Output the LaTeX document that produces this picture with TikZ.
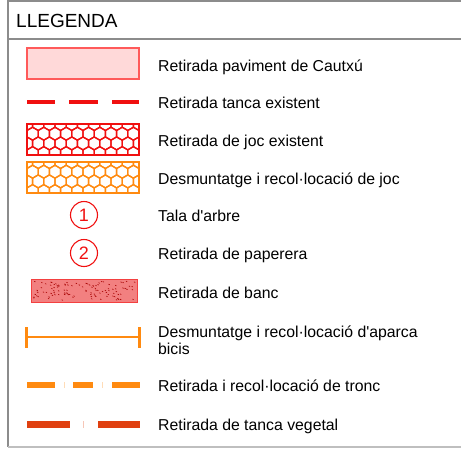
\documentclass[tikz,border=0pt]{standalone}
\usepackage{fontspec}
\setmainfont{Liberation Sans}

\definecolor{rosat}{HTML}{FFD9D9}
\definecolor{vora}{HTML}{FF5A5A}
\definecolor{vermell}{HTML}{F01010}
\definecolor{taronja}{HTML}{FF8A10}
\definecolor{teula}{HTML}{E04010}
\definecolor{banc}{HTML}{F28080}
\definecolor{marc}{HTML}{8C8C8C}

% honeycomb fill: colour, left, top
\newcommand{\panal}[3]{%
  \begin{scope}
    \clip (#2,#3) rectangle ++(112,31);
    \foreach \j in {0,...,4}
      \foreach \i in {-1,...,10} {
        \pgfmathsetmacro\cx{#2+\i*11.2+mod(\j,2)*5.6}
        \pgfmathsetmacro\cy{#3+\j*9.7}
        \draw[#1, line width=1.3pt] (\cx,\cy) +(90:6.47) -- +(30:6.47) -- +(-30:6.47)
          -- +(-90:6.47) -- +(-150:6.47) -- +(150:6.47) -- cycle;
      }
  \end{scope}
  \draw[#1, line width=1.4pt] (#2,#3) rectangle ++(112,31);
}

\begin{document}
\begin{tikzpicture}[x=1pt, y=-1pt,
    lbl/.style={anchor=base west, inner sep=0pt, font=\fontsize{15.8}{18}\selectfont},
    numero/.style={circle, draw=vermell, text=vermell, line width=1.1pt,
      minimum size=27pt, inner sep=0pt, font=\fontsize{18}{18}\selectfont}]
\useasboundingbox (0,0) rectangle (461,450);

            % Frame
            \draw[marc, line width=1.2pt] (461,1) -- (8,1) -- (8,447);
            \draw[marc, line width=1.2pt] (8,39) -- (461,39);
            \draw[black!25, line width=2.5pt] (8,447) -- (461,447);
            \node[anchor=base west, inner sep=0pt, font=\fontsize{19}{22}\selectfont] (titol) at (16,27) {LLEGENDA};

            % Symbols
            \draw[vora, fill=rosat, line width=1.2pt] (27,48) rectangle (139,79);
            \draw[vermell, line width=4pt] (27,102) -- (55,102) (69,102) -- (98,102) (112,102) -- (139,102);
            \panal{vermell}{27}{124}
            \panal{taronja}{27}{162}
            \node[numero] (n1) at (84,215) {1};
            \node[numero] (n2) at (84,253) {2};
            \draw[vermell!80, fill=banc, line width=0.8pt] (31,279) rectangle (137,302);
            \pgfmathsetseed{11}
            \foreach \k in {1,...,110} {
                \pgfmathsetmacro\px{33+rnd*102}
                \pgfmathsetmacro\py{281+rnd*19}
                \draw[red!65!black, line width=0.6pt] (\px,\py) -- ++(1.2,0.6);
            }
            \draw[taronja, line width=2.6pt] (26,337) -- (139,337);
            \draw[taronja, line width=3pt] (26,327) -- (26,348) (139,327) -- (139,348);
            \draw[taronja, line width=6.5pt] (27,385) -- (55,385) (73,385) -- (93,385) (112,385) -- (140,385);
            \draw[taronja!30, line width=6.5pt] (64,385) -- (65,385) (102,385) -- (103,385);
            \draw[teula, line width=7pt] (27,424) -- (70,424) (98,424) -- (140,424);
            \draw[teula!30, line width=7pt] (83,424) -- (84,424);

            % Labels
            \node[lbl] (t1) at (158,71) {Retirada paviment de Cautxú};
            \node[lbl] (t2) at (158,108) {Retirada tanca existent};
            \node[lbl] (t3) at (158,146) {Retirada de joc existent};
            \node[lbl] (t4) at (158,184) {Desmuntatge i recol·locació de joc};
            \node[lbl] (t5) at (158,221) {Tala d\textquotesingle arbre};
            \node[lbl] (t6) at (158,259) {Retirada de paperera};
            \node[lbl] (t7) at (158,298) {Retirada de banc};
            \node[lbl] (t8) at (158,337) {Desmuntatge i recol·locació d\textquotesingle aparca};
            \node[lbl] (t8b) at (158,354) {bicis};
            \node[lbl] (t9) at (158,391) {Retirada i recol·locació de tronc};
            \node[lbl] (t10) at (158,430) {Retirada de tanca vegetal};

\end{tikzpicture}
\end{document}
